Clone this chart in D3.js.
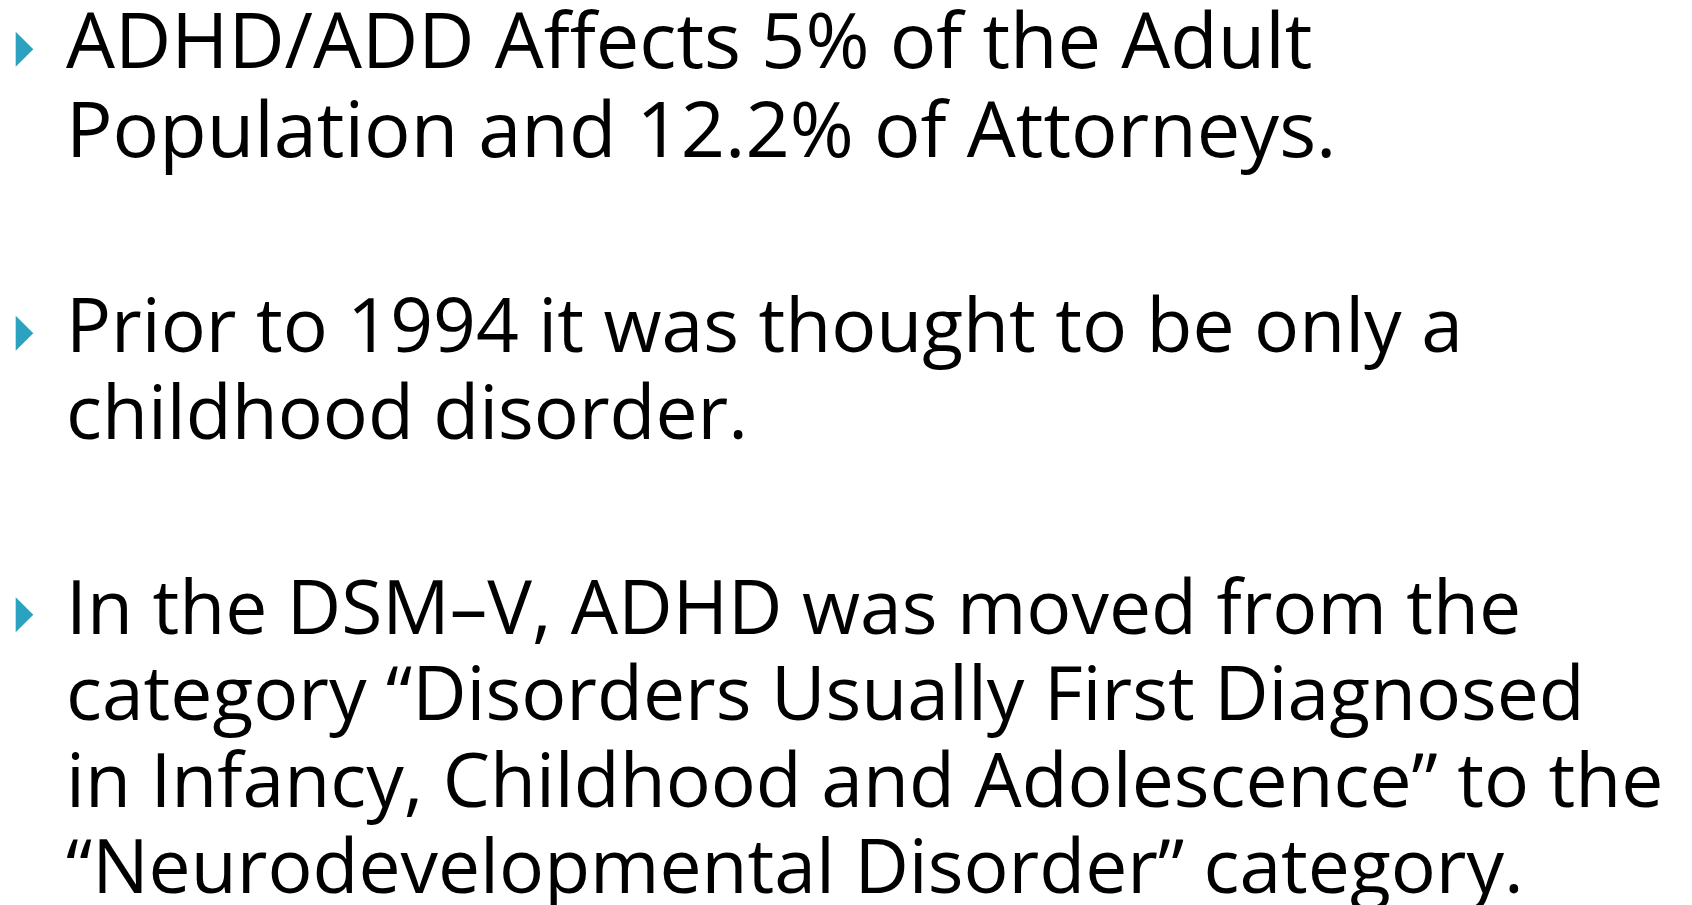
<!DOCTYPE html>
<meta charset="utf-8">
<title>ADHD slide</title>
<style>
    body { margin: 0; background: #fff; }
    text { font-family: "Open Sans", sans-serif; fill: #000; }
</style>
<svg width="1692" height="905"></svg>
<script src="https://d3js.org/d3.v7.min.js"></script>
<script>
    var bullet1 = ["ADHD/ADD Affects 5% of the Adult", "Population and 12.2% of Attorneys."];
    var bullet2 = ["Prior to 1994 it was thought to be only a", "childhood disorder."];
    var bullet3 = ["In the DSM\u2013V, ADHD was moved from the",
        "category \u201cDisorders Usually First Diagnosed",
        "in Infancy, Childhood and Adolescence\u201d to the",
        "\u201cNeurodevelopmental Disorder\u201d category."];
    var bullets = [bullet1, bullet2, bullet3];

    var svg = d3.select("svg");
    // first bullet is set a bit larger on the slide
    var fontSizes = [77.5, 75, 75], lineHeights = [89, 86.5, 86.5];
    var paraGap = 195, textX = 66;

    var y = 68;
    bullets.forEach(function (lines, i) {
        var g = svg.append("g").attr("transform", "translate(0," + y + ")");
        g.append("path")
            .attr("d", "M15.7,-36.3L33.3,-18.8L15.7,-1.3Z")
            .attr("fill", "#2ba3c0");
        g.selectAll("text")
            .data(lines)
            .enter().append("text")
            .attr("x", textX)
            .attr("y", function (d, j) { return j * lineHeights[i]; })
            .style("font-size", fontSizes[i] + "px")
            .text(function (d) { return d; });
        y += (lines.length - 1) * lineHeights[i] + paraGap;
    });
</script>
